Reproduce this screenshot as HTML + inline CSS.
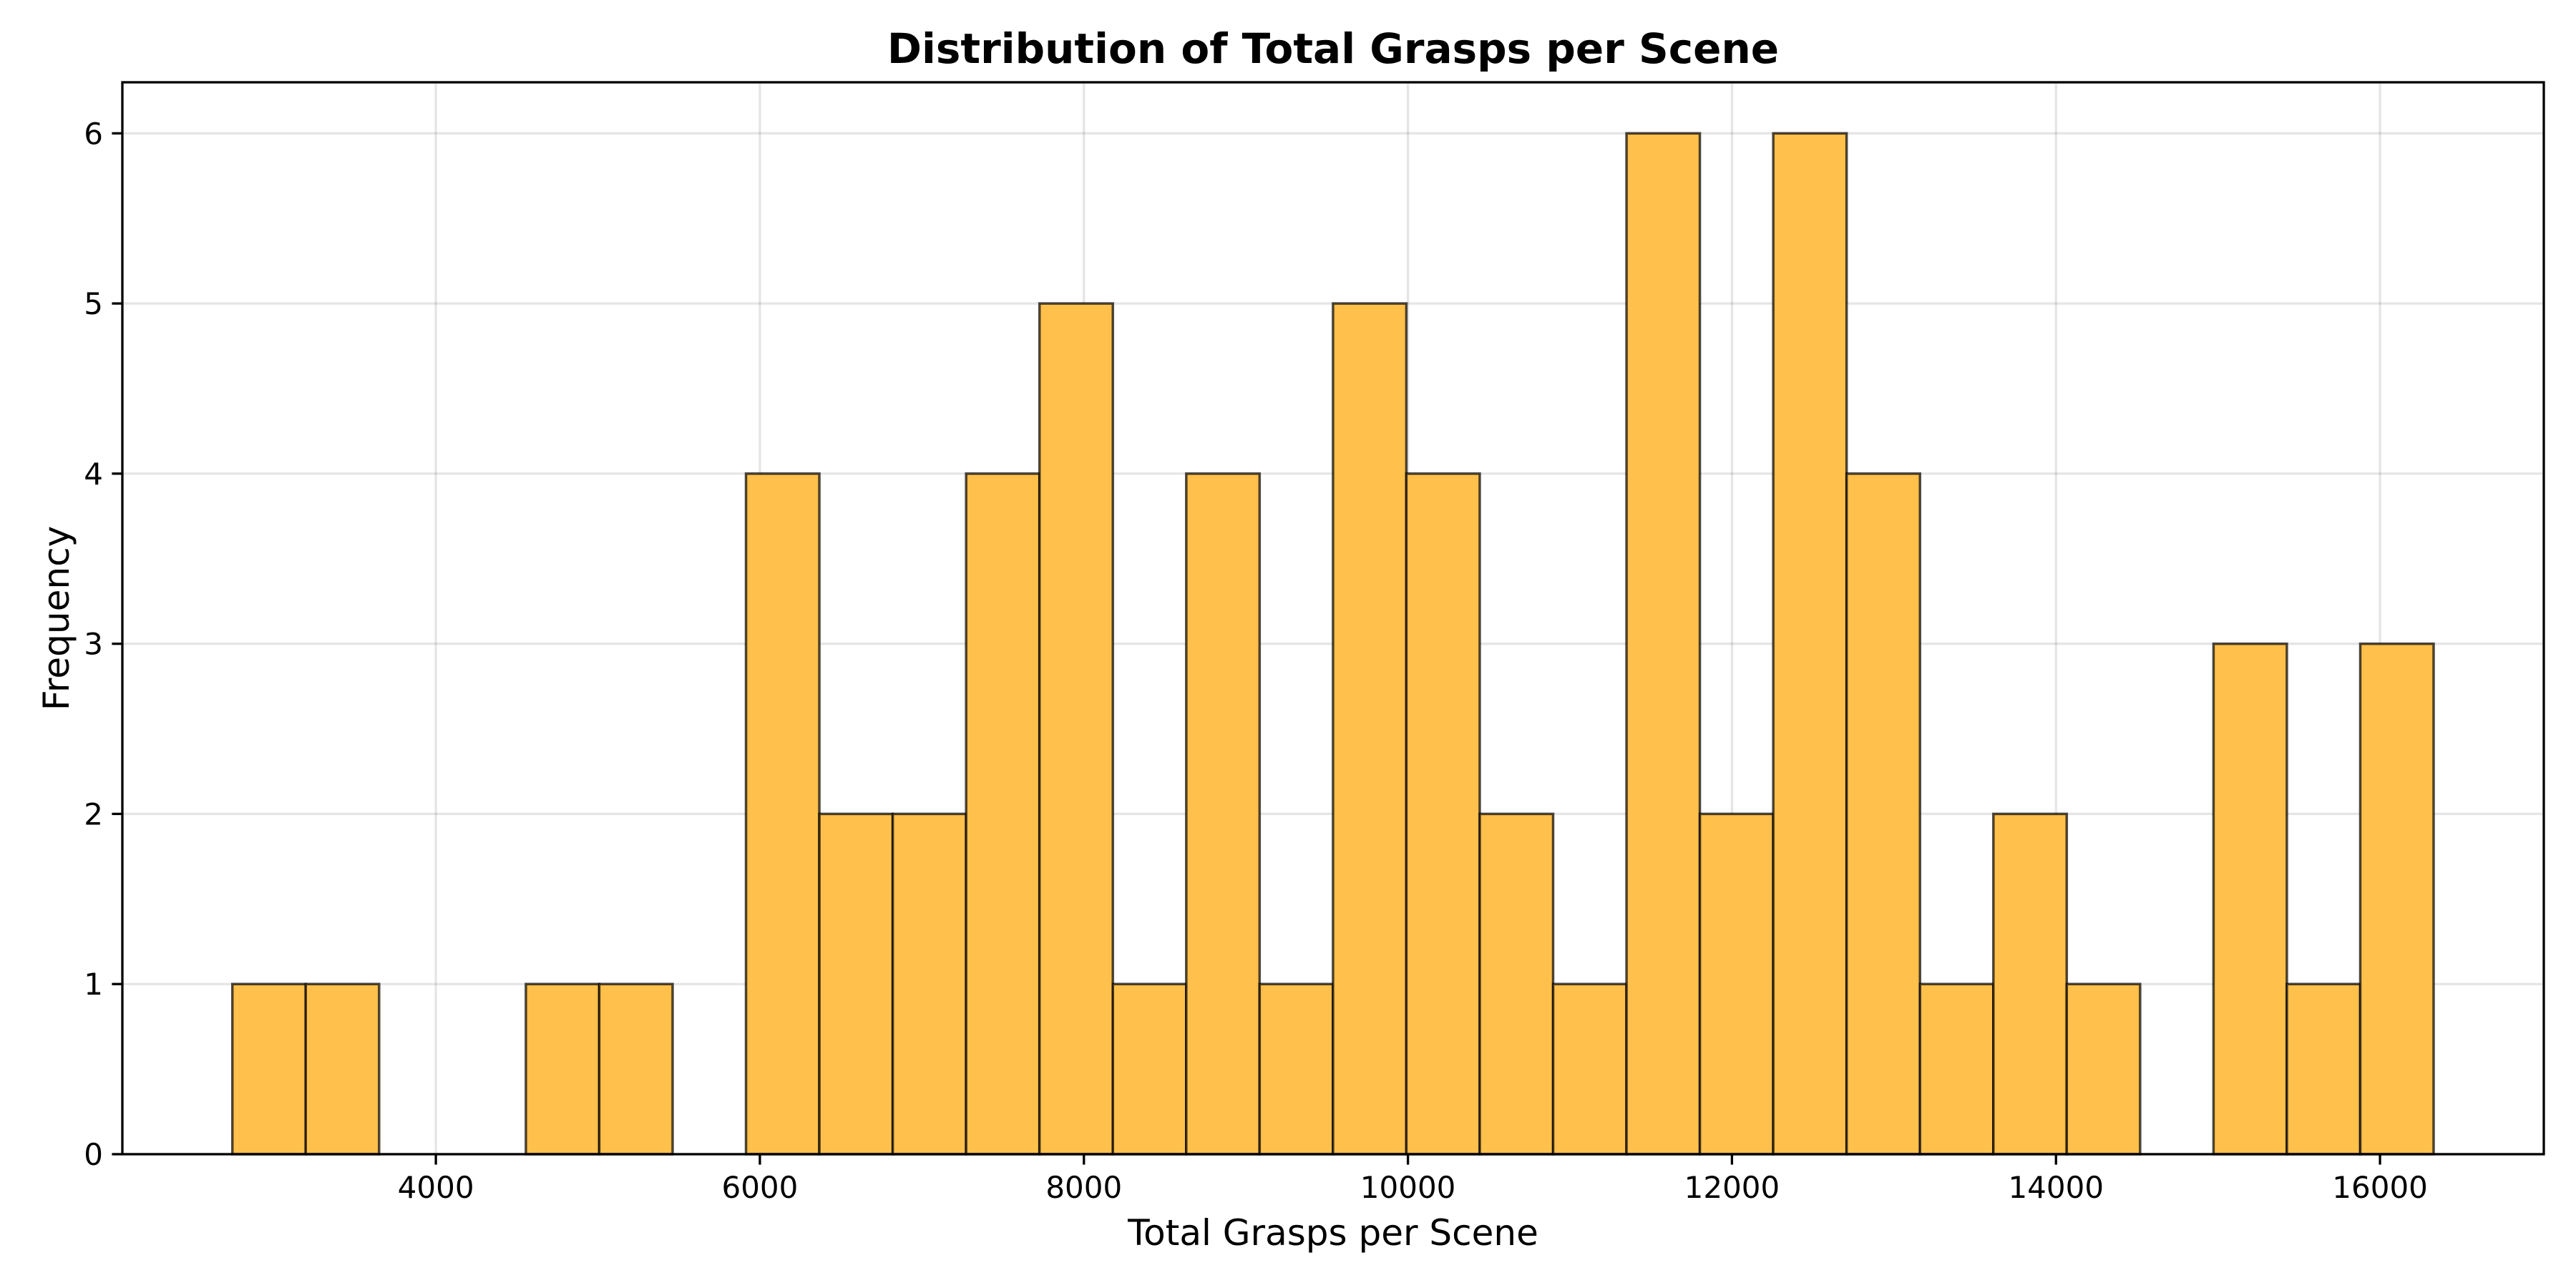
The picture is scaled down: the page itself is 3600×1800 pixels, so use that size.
<!DOCTYPE html>
<html><head><meta charset="utf-8"><style>
html,body{margin:0;padding:0;background:#fff;}
svg{display:block;font-family:"DejaVu Sans","Liberation Sans",sans-serif;}
</style></head><body>
<svg id="chart" width="3600" height="1800" viewBox="0 0 3600 1800">
<rect width="3600" height="1800" fill="#fff"/>
<g id="grid"></g><g id="bars"></g><g id="axes"></g>
<text x="1863" y="88" text-anchor="middle" font-size="58" font-weight="bold">Distribution of Total Grasps per Scene</text>
<text x="1863" y="1740" text-anchor="middle" font-size="50">Total Grasps per Scene</text>
<text x="0" y="0" transform="translate(96,864) rotate(-90)" text-anchor="middle" font-size="50">Frequency</text>
</svg>
<script>
const binStart = 2744;
const binEnd = 16331;
const counts = [1,1,0,0,1,1,0,4,2,2,4,5,1,4,1,5,4,2,1,6,2,6,4,1,2,1,0,3,1,3];
const xTicks = [4000,6000,8000,10000,12000,14000,16000];
const yTicks = [0,1,2,3,4,5,6];

const L=171,R=3555,T=115,B=1613;
const xMin=2065,xMax=17011,yMin=0,yMax=6.3;
const xs=v=>L+(v-xMin)/(xMax-xMin)*(R-L);
const ys=v=>B-(v-yMin)/(yMax-yMin)*(B-T);
const NS="http://www.w3.org/2000/svg";
function mk(tag,attrs,parent){const e=document.createElementNS(NS,tag);for(const k in attrs)e.setAttribute(k,attrs[k]);parent.appendChild(e);return e;}
const grid=document.getElementById('grid'),bars=document.getElementById('bars'),axes=document.getElementById('axes');
xTicks.forEach(v=>{
  const g=mk('line',{x1:xs(v),x2:xs(v),y1:T,y2:B,stroke:'#000','stroke-opacity':0.1,'stroke-width':3.3},grid);
  
  
  const t=mk('line',{x1:xs(v),x2:xs(v),y1:B,y2:B+14.6,stroke:'#000','stroke-width':3.3},axes);
  
  
  const l=mk('text',{x:xs(v),y:B+61,'text-anchor':'middle','font-size':42},axes);
  l.textContent=v;
  
  
});
yTicks.forEach(v=>{
  const g=mk('line',{x1:L,x2:R,y1:ys(v),y2:ys(v),stroke:'#000','stroke-opacity':0.1,'stroke-width':3.3},grid);
  
  
  const t=mk('line',{x1:L-14.6,x2:L,y1:ys(v),y2:ys(v),stroke:'#000','stroke-width':3.3},axes);
  
  
  const l=mk('text',{x:L-27,y:ys(v)+15,'text-anchor':'end','font-size':42},axes);
  l.textContent=v;
  
  
});
const w=(binEnd-binStart)/counts.length;
counts.forEach((c,i)=>{
  const x0=xs(binStart+i*w),x1=xs(binStart+(i+1)*w);
  const r=mk('rect',{x:x0,y:ys(c),width:x1-x0,height:ys(0)-ys(c),fill:'#ffc04c',stroke:'#000','stroke-opacity':0.7,'stroke-width':3.5},bars);
  
  
});
const f=mk('rect',{x:L,y:T,width:R-L,height:B-T,fill:'none',stroke:'#000','stroke-width':3.3},axes);


</script>
</body></html>
